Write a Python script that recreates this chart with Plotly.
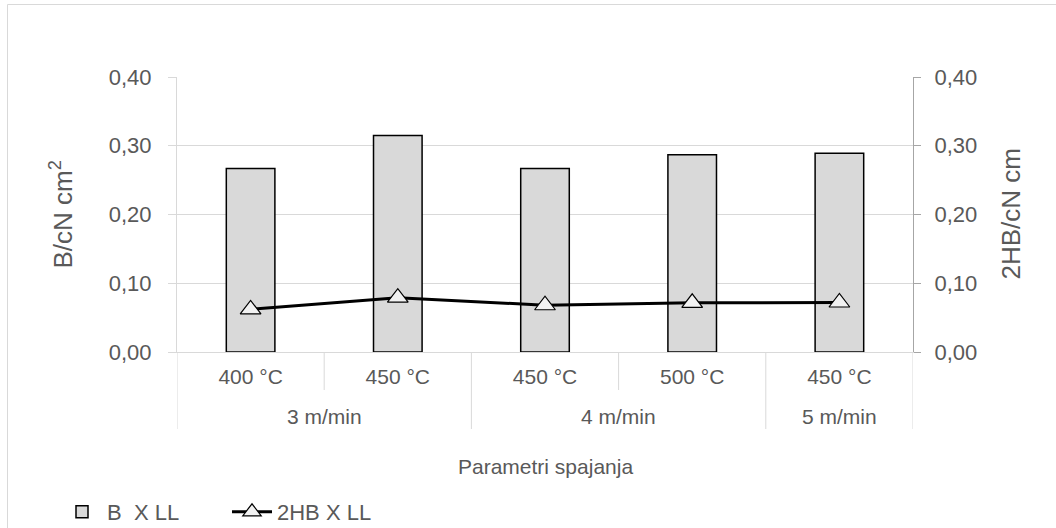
import plotly.graph_objects as go

speeds = ["3 m/min", "3 m/min", "4 m/min", "4 m/min", "5 m/min"]
temps = ["400 °C", "450 °C", "450 °C", "500 °C", "450 °C"]
b_xll = [0.267, 0.315, 0.267, 0.287, 0.289]
hb2_xll = [0.062, 0.079, 0.068, 0.0715, 0.072]
y_ticks = [0.0, 0.1, 0.2, 0.3, 0.4]
y_ticktext = ["0,00", "0,10", "0,20", "0,30", "0,40"]

FONT = "Liberation Sans, Arial, sans-serif"
TXT = "#595959"
GRID = "#d9d9d9"

# plot area in page pixels
PL, PR, PT, PB = 177, 913, 77, 352
PW, PH = PR - PL, PB - PT


def px(xp):
    return (xp - PL) / PW


def py(yp):
    return (PB - yp) / PH


pos = list(range(len(temps)))

fig = go.Figure()
fig.add_trace(go.Bar(
    x=pos, y=b_xll, name="B\u00a0 X LL",
    marker=dict(color="#d9d9d9", line=dict(color="black", width=1.5)),
    width=0.33, yaxis="y",
))
fig.add_trace(go.Scatter(
    x=pos, y=hb2_xll, name="2HB X LL", mode="lines+markers",
    line=dict(color="black", width=3),
    marker=dict(symbol="triangle-up", size=18, color="#f2f2f2",
                line=dict(color="black", width=1.2)),
    yaxis="y2",
))

# category dividers and group labels
shapes = []
annotations = []
groups = []
for i, s in enumerate(speeds):
    if not groups or groups[-1][0] != s:
        groups.append([s, i, i])
    else:
        groups[-1][2] = i
for g, a, b in groups:
    annotations.append(dict(text=g, xref="x", yref="paper", x=(a + b) / 2, y=py(416),
                            showarrow=False, xanchor="center", yanchor="middle",
                            font=dict(size=21, color=TXT)))
    shapes.append(dict(type="line", xref="x", yref="paper", x0=a - 0.5, x1=a - 0.5,
                       y0=0, y1=py(429), line=dict(color=GRID, width=1)))
    for k in range(a, b):
        shapes.append(dict(type="line", xref="x", yref="paper", x0=k + 0.5, x1=k + 0.5,
                           y0=0, y1=py(390), line=dict(color=GRID, width=1)))
last = len(temps) - 1
shapes.append(dict(type="line", xref="x", yref="paper", x0=last + 0.5, x1=last + 0.5,
                   y0=0, y1=py(429), line=dict(color=GRID, width=1)))
shapes.append(dict(type="rect", xref="paper", yref="paper",
                   x0=px(7.5), x1=px(1070), y0=py(540), y1=py(4.5),
                   line=dict(color=GRID, width=1), fillcolor="rgba(0,0,0,0)", layer="below"))

annotations += [
    dict(text="B/cN cm<sup>2</sup>", xref="paper", yref="paper",
         x=px(62), y=0.5, textangle=-90, showarrow=False,
         xanchor="center", yanchor="middle", font=dict(size=26, color=TXT)),
    dict(text="2HB/cN cm", xref="paper", yref="paper",
         x=px(1010), y=0.5, textangle=-90, showarrow=False,
         xanchor="center", yanchor="middle", font=dict(size=26, color=TXT)),
    dict(text="Parametri spajanja", xref="paper", yref="paper",
         x=0.5, y=py(466), showarrow=False,
         xanchor="center", yanchor="middle", font=dict(size=21, color=TXT)),
]

fig.update_layout(
    width=1056, height=528,
    margin=dict(l=PL, r=1056 - PR, t=PT, b=528 - PB, autoexpand=False),
    paper_bgcolor="white", plot_bgcolor="white",
    font=dict(family=FONT, color=TXT, size=20),
    showlegend=True,
    legend=dict(orientation="h", x=px(57), xanchor="left", y=py(512), yanchor="middle",
                font=dict(size=22, color=TXT), itemwidth=40, entrywidth=115,
                traceorder="normal"),
    xaxis=dict(
        range=[-0.5, len(temps) - 0.5], tickvals=pos, ticktext=temps,
        showline=True, linecolor=GRID, linewidth=1, ticks="",
        tickfont=dict(size=21, color=TXT), ticklabelstandoff=6,
        showgrid=False, zeroline=False,
    ),
    yaxis=dict(
        range=[0, 0.4], tickvals=y_ticks, ticktext=y_ticktext,
        showgrid=True, gridcolor=GRID, gridwidth=1,
        showline=True, linecolor=GRID, ticks="outside", ticklen=8,
        tickcolor=GRID, tickfont=dict(size=22, color=TXT),
        ticklabelstandoff=12, zeroline=False,
    ),
    yaxis2=dict(
        range=[0, 0.4], tickvals=y_ticks, ticktext=y_ticktext,
        overlaying="y", side="right", showgrid=False,
        showline=True, linecolor="#a6a6a6", ticks="outside", ticklen=7,
        tickcolor="#a6a6a6", tickfont=dict(size=22, color=TXT),
        ticklabelstandoff=9, zeroline=False,
    ),
    shapes=shapes,
    annotations=annotations,
)

fig.write_html("out.html", config={"displayModeBar": False},
               post_script="document.body.style.margin='0';document.body.style.padding='0';")
